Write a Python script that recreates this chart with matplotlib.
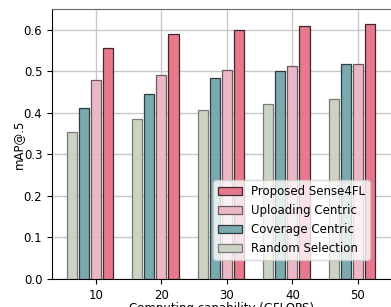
import numpy as np
import matplotlib.pyplot as plt

gflops = [10, 20, 30, 40, 50]
random_sel = [0.354, 0.385, 0.407, 0.422, 0.433]
coverage = [0.412, 0.446, 0.484, 0.500, 0.518]
uploading = [0.479, 0.491, 0.504, 0.512, 0.518]
proposed = [0.556, 0.589, 0.599, 0.610, 0.614]

names = ["Random Selection", "Coverage Centric", "Uploading Centric", "Proposed Sense4FL"]
colors = ["#cbd3c2", "#7aa9af", "#edb8c5", "#e8798d"]
edges = ["#7a7a7a", "#2f3b3c", "#6a5a5e", "#3a2a2e"]

fig = plt.figure(figsize=(3.91, 3.07), dpi=100)
ax = fig.add_axes([52 / 391, 28 / 307, 339 / 391, 270 / 307])

x = np.array(gflops, dtype=float)
step = 1.85
series = [random_sel, coverage, uploading, proposed]
bars = []
for i, vals in enumerate(series):
    b = ax.bar(x + (i - 2) * step, vals, width=1.55, color=colors[i],
               edgecolor=edges[i], linewidth=0.9, label=names[i], zorder=3)
    bars.append(b)

ax.set_xlim(3.3, 55.05)
ax.set_ylim(0, 0.65)
ax.set_xticks(gflops)
ax.set_yticks([0.0, 0.1, 0.2, 0.3, 0.4, 0.5, 0.6])
ax.tick_params(labelsize=8.5)
ax.grid(True, color="#c8c8c8", linewidth=1.0, zorder=0)
ax.set_axisbelow(True)
ax.spines["right"].set_visible(False)
ax.spines["top"].set_color("#666666")
ax.set_xlabel("Computing capability (GFLOPS)", fontsize=8.5, labelpad=0)
ax.set_ylabel("mAP@.5", fontsize=8.5, labelpad=-1)

ax.legend(bars[::-1], names[::-1], loc="lower right", fontsize=8.5,
          bbox_to_anchor=(0.955, 0.05), framealpha=0.8, handlelength=2.0)

fig.savefig("out.png", dpi=100)
